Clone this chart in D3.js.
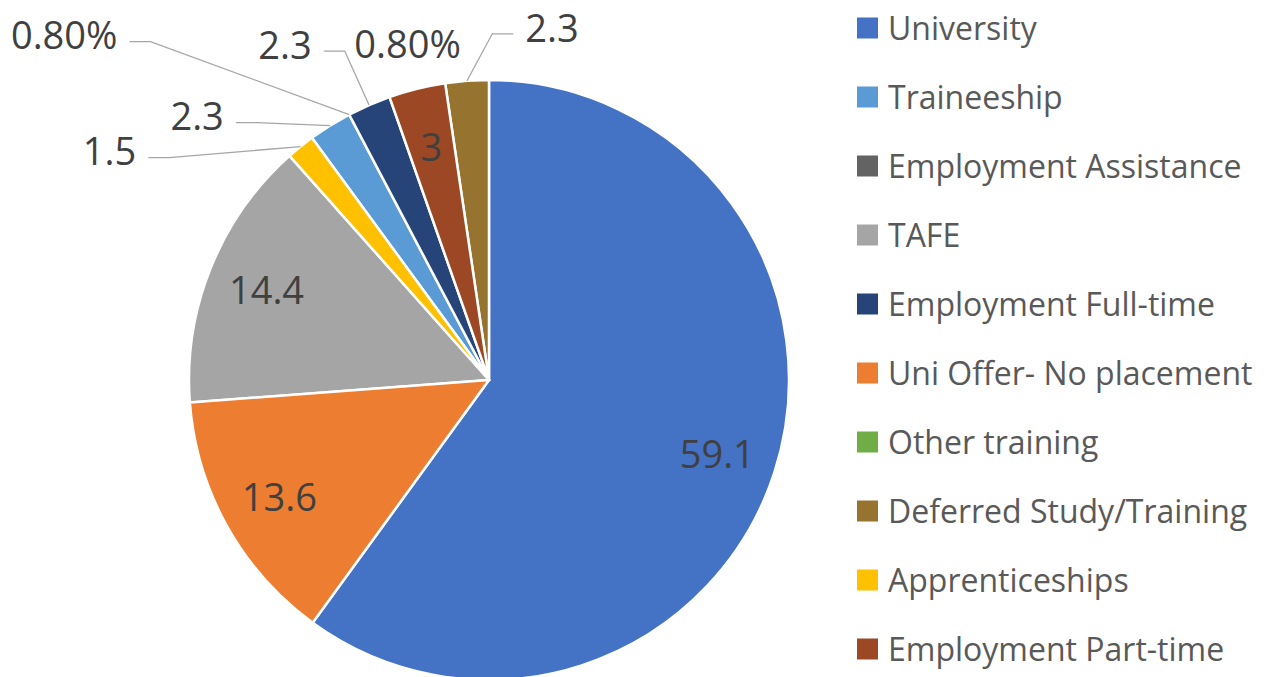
<!DOCTYPE html>
<html>
<head>
<meta charset="utf-8">
<script src="https://cdn.jsdelivr.net/npm/d3@7"></script>
<style>
  body { margin: 0; background: #fff; }
  svg { display: block; font-family: "Open Sans", "Noto Sans", sans-serif; }
</style>
</head>
<body>
<div id="chart"></div>
<script>
// data, in legend order
const categories = ["University", "Traineeship", "Employment Assistance", "TAFE",
    "Employment Full-time", "Uni Offer- No placement", "Other training",
    "Deferred Study/Training", "Apprenticeships", "Employment Part-time"];
const values = [59.1, 2.3, 0, 14.4, 2.3, 13.6, 0, 2.3, 1.5, 3];
const labels = ["59.1", "2.3", "0.80%", "14.4", "2.3", "13.6", "0.80%", "2.3", "1.5", "3"];
const colors = ["#4472C4", "#5B9BD5", "#636363", "#A5A5A5", "#264478",
    "#ED7D31", "#70AD47", "#967430", "#FFC000", "#9C4824"];
// clockwise order of slices from 12 o'clock
const sliceOrder = ["University", "Uni Offer- No placement", "TAFE", "Apprenticeships",
    "Traineeship", "Employment Assistance", "Employment Full-time", "Other training",
    "Employment Part-time", "Deferred Study/Training"];

// outside labels: offset of label centre from slice edge point
const outside = {
    "Apprenticeships": { dx: -191, dy: 5, leader: true },
    "Traineeship": { dx: -133, dy: -9, leader: true },
    "Employment Assistance": { dx: -285, dy: -79, leader: true },
    "Employment Full-time": { dx: -84, dy: -60, leader: true },
    "Other training": { dx: 18, dy: -53, leader: false },
    "Deferred Study/Training": { dx: 85, dy: -53, leader: true }
};

const W = 1281, H = 677;
const cx = 489, cy = 380, R = 300;

const svg = d3.select("#chart").append("svg")
    .attr("width", W)
    .attr("height", H);

const data = categories.map((c, i) => ({ name: c, value: values[i], label: labels[i], color: colors[i] }));

const pie = d3.pie()
    .value(d => d.value)
    .sort((a, b) => sliceOrder.indexOf(a.name) - sliceOrder.indexOf(b.name));

const arcs = pie(data);
const arc = d3.arc().innerRadius(0).outerRadius(R);
const labelArc = d3.arc().innerRadius(R * 0.8).outerRadius(R * 0.8);

const g = svg.append("g").attr("transform", `translate(${cx},${cy})`);

g.selectAll("path.slice")
    .data(arcs.filter(d => d.value > 0))
    .enter()
    .append("path")
    .attr("class", "slice")
    .attr("d", arc)
    .attr("fill", d => d.data.color)
    .attr("stroke", "#fff")
    .attr("stroke-width", 2.5)
    .attr("stroke-linejoin", "round");

// inside labels
g.selectAll("text.inlabel")
    .data(arcs.filter(d => !outside[d.data.name]))
    .enter()
    .append("text")
    .attr("class", "inlabel")
    .attr("transform", d => {
        const [x, y] = labelArc.centroid(d);
        return `translate(${x},${y})`;
    })
    .attr("dy", "0.36em")
    .attr("text-anchor", "middle")
    .style("font-size", "38px")
    .style("fill", "#404040")
    .text(d => d.data.label);

// outside labels with leader lines
const outArcs = arcs.filter(d => outside[d.data.name]);
outArcs.forEach(d => {
    const o = outside[d.data.name];
    const mid = (d.startAngle + d.endAngle) / 2;
    const ex = Math.sin(mid) * R, ey = -Math.cos(mid) * R;
    const lx = ex + o.dx, ly = ey + o.dy;

    const t = g.append("text")
        .attr("x", lx)
        .attr("y", ly)
        .attr("dy", "0.36em")
        .attr("text-anchor", "middle")
        .style("font-size", "38px")
        .style("fill", "#404040")
        .text(d.data.label);

    if (o.leader) {
        const w = t.node().getComputedTextLength();
        const left = o.dx < 0;
        const endX = left ? lx + w / 2 + 12 : lx - w / 2 - 12;
        const elbowX = left ? endX + 21 : endX - 21;
        const yy = ly + 6;
        g.append("polyline")
            .attr("points", [[endX, yy], [elbowX, yy], [ex, ey]].map(p => p.join(",")).join(" "))
            .attr("fill", "none")
            .attr("stroke", "#A6A6A6")
            .attr("stroke-width", 1.3);
    }
});

// legend
const legend = svg.append("g").attr("transform", "translate(857,28)");
const rowH = 69;
const item = legend.selectAll("g.item")
    .data(data)
    .enter()
    .append("g")
    .attr("class", "item")
    .attr("transform", (d, i) => `translate(0,${i * rowH})`);

item.append("rect")
    .attr("x", 0)
    .attr("y", -10.5)
    .attr("width", 21)
    .attr("height", 21)
    .attr("fill", d => d.color);

item.append("text")
    .attr("x", 31)
    .attr("dy", "0.36em")
    .style("font-size", "32px")
    .style("fill", "#595959")
    .text(d => d.name);
</script>
</body>
</html>
